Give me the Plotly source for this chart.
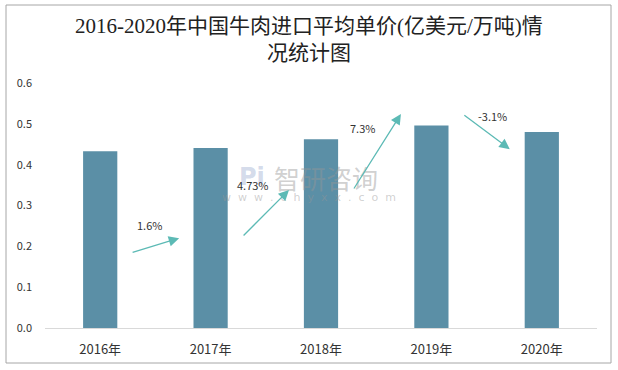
import plotly.graph_objects as go

categories = ["2016年", "2017年", "2018年", "2019年", "2020年"]
prices = [0.433, 0.441, 0.462, 0.496, 0.480]
growth_labels = ["1.6%", "4.73%", "7.3%", "-3.1%"]

# arrow layout (tail x, tail y, head x, head y, label x, label y) in data units
arrow_pos = [
    (0.28, 0.184, 0.715, 0.220, 0.45, 0.252),
    (1.285, 0.223, 1.71, 0.338, 1.385, 0.350),
    (2.29, 0.338, 2.724, 0.524, 2.38, 0.490),
    (3.285, 0.524, 3.71, 0.438, 3.557, 0.519),
]

W, H = 618, 370
L, R, T, B = 45, 21, 83, 42
pw, ph = W - L - R, H - T - B


def px(xp):
    return (xp - L) / pw


def py(yp):
    return (H - B - yp) / ph


fig = go.Figure()
fig.add_trace(go.Bar(
    x=list(range(len(categories))), y=prices,
    marker=dict(color="#5b8fa6", line=dict(width=0)),
    width=0.31, hoverinfo="skip",
))

annotations = []
arrow_color = "#5cbab5"
for lab, (x0, y0, x1, y1, lx, ly) in zip(growth_labels, arrow_pos):
    annotations.append(dict(
        x=x1, y=y1, ax=x0, ay=y0, xref="x", yref="y", axref="x", ayref="y",
        showarrow=True, arrowhead=2, arrowsize=1.6, arrowwidth=1.3,
        arrowcolor=arrow_color, text="",
    ))
    annotations.append(dict(
        x=lx, y=ly, xref="x", yref="y", text=lab, showarrow=False,
        font=dict(size=11, color="#333333", family="Noto Sans CJK SC"),
    ))

# watermark (drawn under the labels)
wm = []
wm.append(dict(
    x=px(326), y=py(177), xref="paper", yref="paper",
    text="智研咨询", showarrow=False, xanchor="center", yanchor="middle",
    font=dict(size=26, color="rgba(150,150,150,0.45)", family="Noto Sans CJK SC"),
))
wm.append(dict(
    x=px(252), y=py(177), xref="paper", yref="paper",
    text="<b>Pi</b>", showarrow=False, xanchor="center", yanchor="middle",
    font=dict(size=24, color="rgba(160,175,210,0.45)", family="DejaVu Sans"),
))
wm.append(dict(
    x=px(309), y=py(197), xref="paper", yref="paper",
    text="w  w  w  .  c  h  y  x  x  .  c  o  m", showarrow=False,
    xanchor="center", yanchor="middle",
    font=dict(size=11, color="rgba(150,150,150,0.45)", family="DejaVu Sans"),
))
annotations = wm + annotations

# title
annotations.append(dict(
    x=px(W / 2), y=py(40), xref="paper", yref="paper",
    text="2016-2020年中国牛肉进口平均单价(亿美元/万吨)情<br>况统计图",
    showarrow=False, xanchor="center", yanchor="middle", align="center",
    font=dict(size=21, color="#222222",
              family="Liberation Serif, Noto Sans CJK SC"),
))

fig.update_layout(
    width=W, height=H,
    margin=dict(l=L, r=R, t=T, b=B),
    paper_bgcolor="white", plot_bgcolor="white",
    showlegend=False,
    annotations=annotations,
    font=dict(family="Noto Sans CJK SC", color="#333333"),
    shapes=[dict(
        type="rect", xref="paper", yref="paper",
        x0=px(6), x1=px(611),
        y0=py(363), y1=py(5),
        line=dict(color="#a6a6a6", width=1), fillcolor="rgba(0,0,0,0)", layer="below",
    )],
    xaxis=dict(
        range=[-0.5, 4.5], tickmode="array", tickvals=list(range(len(categories))),
        ticktext=categories, showgrid=False, zeroline=False,
        showline=True, linecolor="#d9d9d9", linewidth=1, ticks="",
        ticklabelstandoff=9, automargin=False,
        tickfont=dict(size=13, color="#333333"),
    ),
    yaxis=dict(
        range=[0, 0.6], dtick=0.1, tickformat=".1f", showgrid=False, zeroline=False,
        showline=False, ticks="", ticklabelstandoff=12, automargin=False,
        tickfont=dict(size=11, color="#333333"),
    ),
)

fig.write_html("out.html", config={"displayModeBar": False},
               post_script="document.body.style.margin='0';")
